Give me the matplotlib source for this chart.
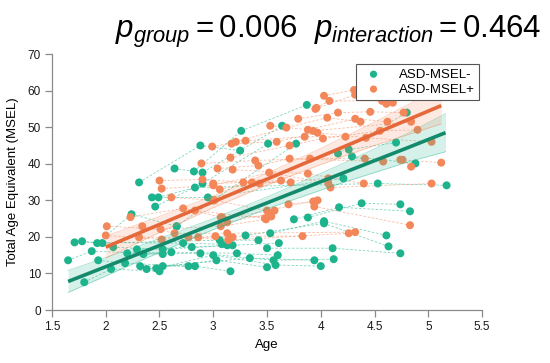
import matplotlib
matplotlib.use("Agg")
import matplotlib.pyplot as plt
import numpy as np

plt.rcParams["font.family"] = ["Liberation Sans", "DejaVu Sans"]
plt.rcParams["mathtext.fontset"] = "custom"
plt.rcParams["mathtext.rm"] = "Liberation Sans"
plt.rcParams["mathtext.it"] = "Liberation Sans:italic"

# Longitudinal visits per subject: (age in years, MSEL total age equivalent)
msel_neg_subjects = [
    [(1.80, 7.6), (2.05, 11.2), (2.50, 10.6)],
    [(1.65, 13.6), (1.87, 16.1), (2.53, 15.3)],
    [(1.93, 13.6), (2.18, 12.8), (2.77, 12.0)],
    [(2.32, 12.0), (2.83, 12.0), (3.16, 10.6)],
    [(2.38, 11.2), (3.03, 13.6), (3.50, 11.7)],
    [(2.47, 11.4), (3.00, 15.0), (3.58, 12.3), (4.00, 12.0)],
    [(2.53, 12.0), (3.34, 14.2), (3.94, 13.6)],
    [(2.35, 15.3), (2.88, 15.5), (3.56, 13.6), (4.12, 13.9)],
    [(2.20, 15.5), (2.61, 15.8), (3.22, 15.5), (3.60, 15.0)],
    [(3.50, 16.9), (4.11, 16.9), (4.74, 15.5)],
    [(2.29, 16.6), (2.80, 17.2), (3.13, 17.7)],
    [(2.07, 17.2), (2.53, 16.6), (3.18, 17.7), (3.61, 18.3)],
    [(1.71, 18.5), (2.72, 18.3), (3.08, 18.0)],
    [(1.78, 18.8), (1.97, 18.3), (3.06, 19.1), (3.42, 19.1)],
    [(1.92, 18.3), (2.24, 26.2), (2.66, 22.9)],
    [(3.53, 21.0), (4.03, 24.3), (4.61, 20.4)],
    [(3.30, 20.4), (4.03, 23.7), (4.63, 17.4)],
    [(3.75, 24.8), (4.17, 28.1), (4.83, 27.0)],
    [(3.88, 25.3), (4.38, 29.2), (4.74, 28.9)],
    [(2.66, 22.9), (3.00, 30.0), (3.77, 45.5)],
    [(2.46, 28.3), (2.90, 34.6), (3.51, 45.5)],
    [(2.43, 30.8), (2.95, 30.8), (4.21, 36.0)],
    [(2.49, 30.8), (2.83, 33.5), (4.53, 34.6), (5.17, 34.1)],
    [(2.31, 34.9), (2.88, 45.0), (3.25, 43.6)],
    [(2.64, 38.7), (2.90, 37.6), (3.64, 50.4)],
    [(2.82, 37.9), (3.26, 49.0), (3.87, 56.1)],
    [(4.16, 42.8), (4.80, 54.0)],
    [(4.26, 43.9), (4.70, 45.8)],
    [(4.29, 42.0), (4.88, 40.1)],
]

msel_pos_subjects = [
    [(2.00, 20.4), (2.52, 19.3), (3.02, 20.2), (3.83, 20.2)],
    [(2.01, 22.9), (2.51, 22.1), (3.07, 22.9), (3.49, 24.8)],
    [(2.23, 25.4), (2.72, 27.8), (3.07, 25.4), (3.54, 25.6)],
    [(2.31, 19.9), (2.77, 19.9), (3.14, 19.1), (4.26, 21.0)],
    [(2.34, 22.9), (2.64, 21.0), (3.13, 21.0), (4.32, 21.3)],
    [(2.50, 35.4), (2.90, 35.7), (3.43, 34.6), (4.07, 36.0)],
    [(2.52, 33.2), (3.00, 34.1), (3.52, 37.6), (4.07, 34.6)],
    [(2.61, 30.8), (3.01, 30.0), (3.50, 27.2), (3.97, 30.0)],
    [(2.89, 40.1), (3.39, 40.9), (3.90, 41.4), (4.41, 41.4)],
    [(2.99, 44.7), (3.30, 46.3), (3.85, 47.4), (4.23, 47.4)],
    [(3.04, 38.7), (3.42, 39.5), (3.71, 41.4), (4.58, 40.6)],
    [(2.86, 19.9), (3.18, 19.9)],
    [(3.16, 41.7), (3.71, 45.0), (4.02, 46.9), (4.55, 49.0), (4.90, 49.3)],
    [(3.17, 45.5), (3.59, 46.0), (3.97, 48.5), (4.42, 47.1), (5.03, 46.0)],
    [(3.21, 46.0), (3.68, 49.9), (4.06, 52.6), (4.37, 51.5)],
    [(3.18, 38.4), (3.88, 37.3), (4.40, 34.6)],
    [(3.53, 50.4), (3.88, 49.3), (4.32, 52.3), (4.62, 51.5)],
    [(3.79, 52.3), (4.16, 54.0), (4.46, 54.2), (4.77, 54.0)],
    [(3.95, 55.0), (4.32, 58.9), (4.61, 56.4)],
    [(3.96, 55.3), (4.08, 57.2), (4.57, 57.2), (4.67, 56.7)],
    [(4.03, 58.6), (4.31, 60.2)],
    [(3.93, 49.0), (4.84, 51.5)],
    [(4.09, 33.5), (5.03, 34.6)],
    [(3.94, 28.3), (4.83, 23.2)],
    [(3.70, 28.9), (3.93, 29.7)],
    [(4.74, 41.1), (5.12, 40.3)],
    [(4.76, 41.1), (4.84, 39.2)],
    [(3.00, 34.6), (3.28, 34.9), (3.63, 35.4)],
    [(3.06, 33.0), (3.36, 34.9), (3.72, 34.9)],
    [(3.08, 25.4), (3.57, 27.2)],
    [(3.13, 24.0), (3.53, 26.4)],
    [(2.83, 27.2), (3.48, 25.1)],
]

# Model fit and 95% band, read at a few ages
neg_fit_age = [1.65, 2.3, 3.0, 3.5, 4.2, 4.8, 5.16]
neg_fit = [7.8, 15.3, 23.5, 29.3, 37.4, 44.3, 48.5]
neg_halfwidth = [3.0, 2.1, 1.5, 1.6, 2.6, 3.9, 5.2]

pos_fit_age = [2.0, 2.5, 3.0, 3.5, 4.0, 4.5, 5.12]
pos_fit = [17.2, 23.4, 29.6, 35.8, 42.0, 48.2, 55.9]
pos_halfwidth = [3.0, 2.2, 1.6, 1.6, 2.2, 3.2, 5.0]

x_ticks = [1.5, 2, 2.5, 3, 3.5, 4, 4.5, 5, 5.5]
x_ticklabels = ["1.5", "2", "2.5", "3", "3.5", "4", "4.5", "5", "5.5"]
y_ticks = [0, 10, 20, 30, 40, 50, 60, 70]

TEAL = "#1db38c"
TEAL_DARK = "#138a6c"
ORANGE = "#f4875a"
ORANGE_DARK = "#e5683a"

fig = plt.figure(figsize=(5.5, 3.63), dpi=100)
ax = fig.add_axes([0.0945, 0.146, 0.782, 0.705])


def draw_group(subjects, color, label):
    for subj in subjects:
        ages = [a for a, _ in subj]
        vals = [v for _, v in subj]
        ax.plot(ages, vals, linestyle=(0, (3, 2)), color=color, lw=0.6,
                alpha=0.55, zorder=1)
    all_a = [a for subj in subjects for a, _ in subj]
    all_v = [v for subj in subjects for _, v in subj]
    ax.scatter(all_a, all_v, s=33, color=color, edgecolors="none",
               zorder=2, label=label)


draw_group(msel_neg_subjects, TEAL, "ASD-MSEL-")
draw_group(msel_pos_subjects, ORANGE, "ASD-MSEL+")

# bands over points, then fitted lines
for fa, fv, hw, c, cd in [
    (neg_fit_age, neg_fit, neg_halfwidth, TEAL, TEAL_DARK),
    (pos_fit_age, pos_fit, pos_halfwidth, ORANGE, ORANGE_DARK),
]:
    fa = np.array(fa)
    fv = np.array(fv)
    hw = np.array(hw)
    ax.fill_between(fa, fv - hw, fv + hw, color=c, alpha=0.18, lw=0, zorder=3)
    ax.plot(fa, fv - hw, color=c, lw=0.6, alpha=0.4, zorder=3)
    ax.plot(fa, fv + hw, color=c, lw=0.6, alpha=0.4, zorder=3)
    ax.plot(fa, fv, color=cd, lw=2.6, zorder=4, solid_capstyle="butt")

ax.set_xlim(1.5, 5.5)
ax.set_ylim(0, 70)
ax.set_xticks(x_ticks)
ax.set_xticklabels(x_ticklabels)
ax.set_yticks(y_ticks)
for s in ["top", "right"]:
    ax.spines[s].set_visible(False)
for s in ["left", "bottom"]:
    ax.spines[s].set_color("#8a8a8a")
    ax.spines[s].set_linewidth(0.9)
ax.tick_params(axis="both", direction="out", length=5, width=0.9,
               color="#8a8a8a", labelsize=8.5, labelcolor="#1a1a1a", pad=3)

ax.set_xlabel("Age", fontsize=9.5, labelpad=4)
ax.set_ylabel("Total Age Equivalent (MSEL)", fontsize=9.5, labelpad=6)

leg = ax.legend(loc="upper right", bbox_to_anchor=(0.993, 0.962), fontsize=9.5,
                frameon=True, fancybox=False, borderpad=0.35,
                handletextpad=0.9, labelspacing=0.2, handlelength=2.0,
                borderaxespad=0, markerscale=0.9)
leg.get_frame().set_edgecolor("#555555")
leg.get_frame().set_linewidth(0.8)
leg.get_frame().set_alpha(1)
leg.set_zorder(10)

fig.text(0.985, 0.895,
         r"$p_{group} = \mathrm{0.006}$  $p_{interaction} = \mathrm{0.464}$",
         ha="right", va="baseline", fontsize=22.5)

fig.savefig("out.png", dpi=100, facecolor="white")
